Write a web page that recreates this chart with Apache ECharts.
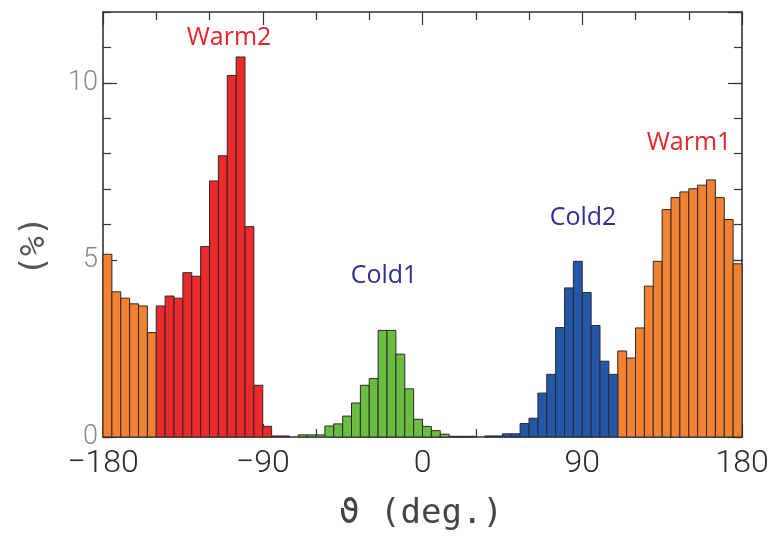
<!DOCTYPE html>
<html>
<head>
<meta charset="utf-8">
<script src="https://cdn.jsdelivr.net/npm/echarts@6/dist/echarts.min.js"></script>
<style>html,body{margin:0;padding:0;background:#fff}#c{width:776px;height:540px}</style>
</head>
<body>
<div id="c"></div>
<script>
// Histogram bins: 5-degree bins starting at -180
const binStarts = [
  -180,-175,-170,-165,-160,-155,-150,-145,-140,-135,-130,-125,-120,-115,-110,-105,-100,-95,-90,-85,
  -80,-75,-70,-65,-60,-55,-50,-45,-40,-35,-30,-25,-20,-15,-10,-5,0,5,10,15,
  20,25,30,35,40,45,50,55,60,65,70,75,80,85,90,95,100,105,110,115,
  120,125,130,135,140,145,150,155,160,165,170,175
];
const binWidth = 5;
// Percent per bin
const percentValues = [
  5.16,4.10,3.92,3.76,3.70,2.95,3.70,3.98,3.92,4.64,4.54,5.38,7.23,7.94,10.21,10.73,5.94,1.46,0.30,0.03,
  0.03,0,0.06,0.06,0.06,0.31,0.37,0.59,0.96,1.46,1.65,3.01,3.01,2.34,1.36,0.50,0.30,0.18,0.08,0.02,
  0.02,0.02,0,0.03,0.03,0.09,0.09,0.38,0.53,1.24,1.77,3.09,4.21,4.96,4.08,3.15,2.14,1.77,2.43,2.23,
  3.08,4.26,4.96,6.42,6.76,6.92,7.01,7.11,7.26,6.76,6.14,4.89
];
// Group of each bin
const binGroups = [
  'Warm1','Warm1','Warm1','Warm1','Warm1','Warm1','Warm2','Warm2','Warm2','Warm2','Warm2','Warm2','Warm2','Warm2','Warm2','Warm2','Warm2','Warm2','Warm2','Warm2',
  'Warm2','Cold1','Cold1','Cold1','Cold1','Cold1','Cold1','Cold1','Cold1','Cold1','Cold1','Cold1','Cold1','Cold1','Cold1','Cold1','Cold1','Cold1','Cold1','Cold1',
  'Cold1','Cold1','Cold2','Cold2','Cold2','Cold2','Cold2','Cold2','Cold2','Cold2','Cold2','Cold2','Cold2','Cold2','Cold2','Cold2','Cold2','Cold2','Warm1','Warm1',
  'Warm1','Warm1','Warm1','Warm1','Warm1','Warm1','Warm1','Warm1','Warm1','Warm1','Warm1','Warm1'
];
const groupNames = ['Warm1','Warm2','Cold1','Cold2'];
const groupColors = {Warm1:'#f28131', Warm2:'#ec2a2c', Cold1:'#6cbc42', Cold2:'#2457a8'};

const chart = echarts.init(document.getElementById('c'), null, {renderer:'canvas'});

function renderItem(params, api){
  const x0 = api.value(0), x1 = api.value(1), v = api.value(2);
  if (!(v > 0)) return null;
  const p0 = api.coord([x0, 0]);
  const p1 = api.coord([x1, v]);
  return {
    type:'rect',
    shape:{x:p0[0], y:p1[1], width:p1[0]-p0[0], height:Math.max(p0[1]-p1[1], 0.8)},
    style:{fill:api.visual('color'), stroke:'#2a2a2a', lineWidth:1}
  };
}

const series = groupNames.map(g => ({
  type:'custom',
  name:g,
  renderItem:renderItem,
  xAxisIndex:0, yAxisIndex:0,
  itemStyle:{color:groupColors[g]},
  encode:{x:[0,1], y:2},
  data: binStarts.map((s,i)=>[s, s+binWidth, percentValues[i], binGroups[i]]).filter(d=>d[3]===g).map(d=>[d[0],d[1],d[2]]),
  z:2
}));

const axLine = {show:true, onZero:false, lineStyle:{color:'#333', width:1.6}};
const noLine = {show:false, onZero:false};
const tickStyle = {color:'#333', width:1.2};
const tickFont = 'Roboto';

const option = {
  animation:false,
  backgroundColor:'#fff',
  grid:{left:103, right:34, top:12, bottom:103},
  xAxis:[
    {type:'value', position:'bottom', min:-180, max:180, interval:90,
     axisLine:axLine, splitLine:{show:false},
     axisTick:{show:true, inside:true, length:13, lineStyle:tickStyle},
     minorTick:{show:true, splitNumber:3, length:8, lineStyle:tickStyle},
     axisLabel:{show:true, margin:11, color:'#2a2a2a', fontSize:32, fontFamily:tickFont, fontWeight:300,
       formatter:v=> v<0 ? '\u2212'+Math.abs(v) : String(v)}},
    {type:'value', position:'top', min:-180, max:180, interval:90,
     axisLine:axLine, splitLine:{show:false},
     axisTick:{show:true, inside:true, length:13, lineStyle:tickStyle},
     minorTick:{show:true, splitNumber:3, length:8, lineStyle:tickStyle},
     axisLabel:{show:false}}
  ],
  yAxis:[
    {type:'value', position:'left', min:0, max:12, interval:5,
     axisLine:axLine, splitLine:{show:false},
     axisTick:{show:true, inside:true, length:14, lineStyle:tickStyle},
     axisLabel:{show:true, margin:5, color:'#8a8a8a', fontSize:27, fontFamily:tickFont, fontWeight:300, showMaxLabel:false}},
    {type:'value', position:'left', min:0, max:12, interval:1,
     axisLine:noLine, splitLine:{show:false},
     axisTick:{show:true, inside:true, length:8, lineStyle:tickStyle},
     axisLabel:{show:false}},
    {type:'value', position:'right', min:0, max:12, interval:5,
     axisLine:axLine, splitLine:{show:false},
     axisTick:{show:true, inside:true, length:14, lineStyle:tickStyle},
     axisLabel:{show:false}},
    {type:'value', position:'right', min:0, max:12, interval:1,
     axisLine:noLine, splitLine:{show:false},
     axisTick:{show:true, inside:true, length:8, lineStyle:tickStyle},
     axisLabel:{show:false}}
  ],
  series:series,
  graphic:[
    {type:'text', x:421, y:514, style:{text:'\u03d1 (deg.)', fontSize:34, fontFamily:'DejaVu Sans Mono', fill:'#444', align:'center', verticalAlign:'middle'}},
    {type:'text', x:35, y:246, rotation:Math.PI/2, style:{text:'(%)', fontSize:33, fontFamily:'DejaVu Sans Mono', fill:'#555', align:'center', verticalAlign:'middle'}},
    {type:'text', x:229, y:38, style:{text:'Warm2', fontSize:25, fontFamily:'Open Sans', fill:'#e4262b', align:'center', verticalAlign:'middle'}},
    {type:'text', x:384, y:276, style:{text:'Cold1', fontSize:25, fontFamily:'Open Sans', fill:'#2e3192', align:'center', verticalAlign:'middle'}},
    {type:'text', x:583, y:218, style:{text:'Cold2', fontSize:25, fontFamily:'Open Sans', fill:'#2e3192', align:'center', verticalAlign:'middle'}},
    {type:'text', x:689, y:143, style:{text:'Warm1', fontSize:25, fontFamily:'Open Sans', fill:'#e4262b', align:'center', verticalAlign:'middle'}}
  ]
};
chart.setOption(option);
</script>
</body>
</html>
